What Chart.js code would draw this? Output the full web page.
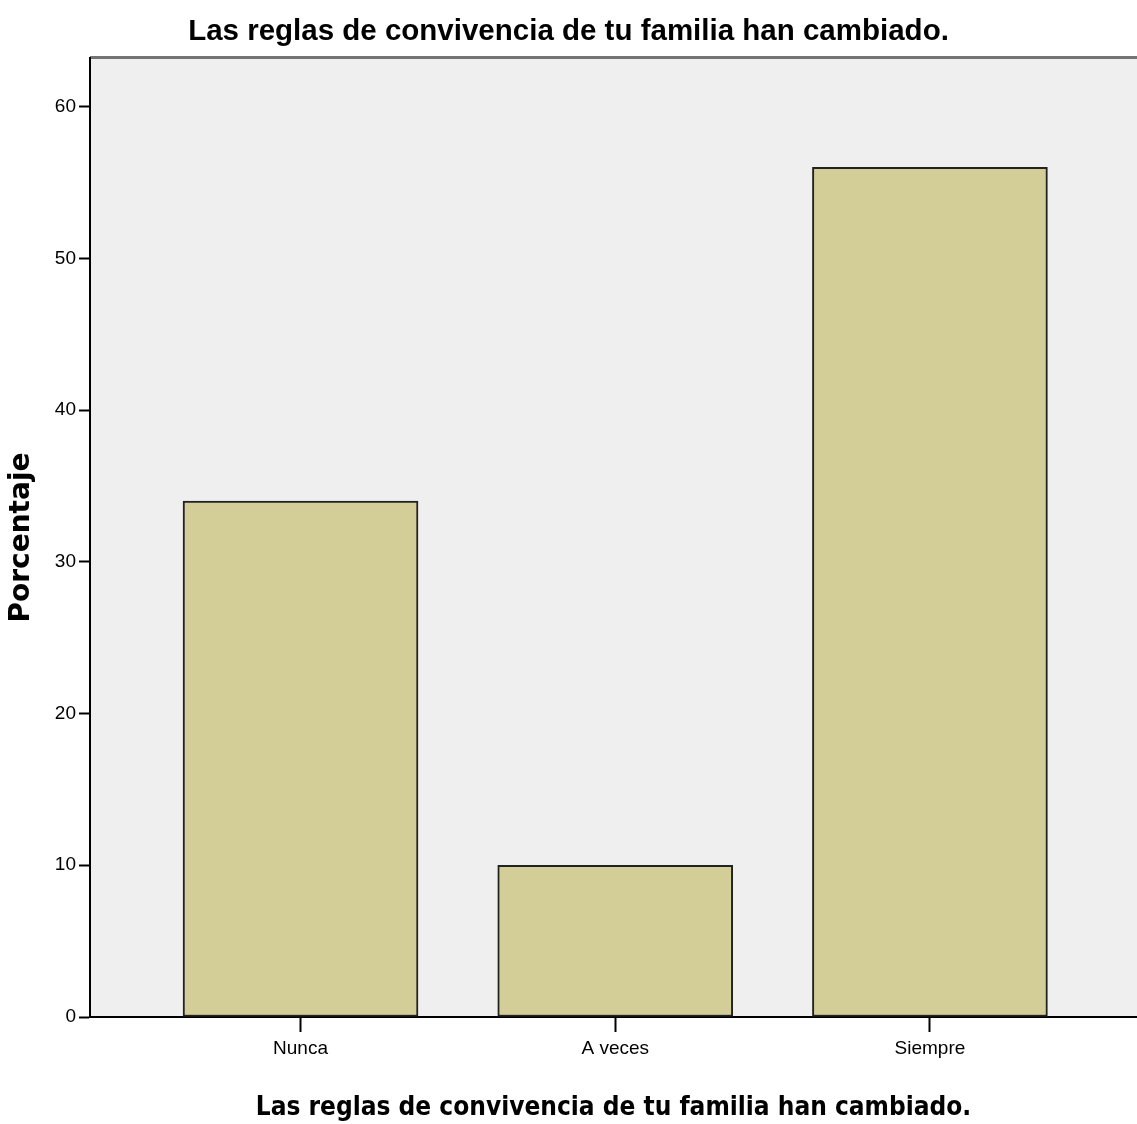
<!DOCTYPE html>
<html><head><meta charset="utf-8">
<script src="https://cdn.jsdelivr.net/npm/chart.js@4/dist/chart.umd.min.js"></script>
<style>html,body{margin:0;padding:0;background:#fff;}#wrap{width:1137px;height:1124px;}</style>
</head><body><div id="wrap"><canvas id="c" width="1137" height="1124"></canvas></div>
<script>
const chartTitle = "Las reglas de convivencia de tu familia han cambiado.";
const xAxisTitle = "Las reglas de convivencia de tu familia han cambiado.";
const yAxisTitle = "Porcentaje";
const categories = ["Nunca", "A veces", "Siempre"];
const percentages = [34, 10, 56];
const yTicks = [0, 10, 20, 30, 40, 50, 60];

const plotBg = {
  id: 'plotBg',
  beforeDraw(chart) {
    const {ctx, chartArea: a} = chart;
    ctx.save();
    ctx.fillStyle = '#efefef';
    ctx.fillRect(a.left, a.top, a.right - a.left, a.bottom - a.top);
    ctx.strokeStyle = '#747474';
    ctx.lineWidth = 3;
    ctx.beginPath();
    ctx.moveTo(a.left, a.top - 0.5);
    ctx.lineTo(a.right, a.top - 0.5);
    ctx.stroke();
    ctx.restore();
  }
};

new Chart(document.getElementById('c'), {
  type: 'bar',
  data: {
    datasets: [{
      data: categories.map((c, i) => ({x: i, y: percentages[i]})),
      backgroundColor: '#d3ce98',
      borderColor: '#222222',
      borderWidth: 2,
      borderSkipped: false,
      barThickness: 235
    }]
  },
  options: {
    responsive: false,
    animation: false,
    layout: {padding: 0},
    plugins: {
      legend: {display: false},
      tooltip: {enabled: false},
      title: {
        display: true,
        text: chartTitle,
        color: '#000',
        font: {family: 'Liberation Sans', size: 29.5, weight: 'bold', lineHeight: 1.2},
        padding: {top: 14, bottom: 8.6}
      }
    },
    scales: {
      x: {
        type: 'linear',
        offset: false,
        min: -0.669,
        max: 2.658,
        afterBuildTicks: s => { s.ticks = categories.map((c, i) => ({value: i})); },
        afterFit: s => { s.height = 107; },
        ticks: {
          callback: v => categories[v],
          color: '#000',
          font: {family: 'Liberation Sans', size: 19},
          padding: 5,
          maxRotation: 0,
          autoSkip: false
        },
        grid: {offset: false, drawOnChartArea: false, drawTicks: true, tickLength: 15, tickColor: '#000', tickWidth: 2},
        border: {display: true, color: '#000', width: 2},
        title: {
          display: true,
          text: xAxisTitle,
          color: '#000',
          font: {family: 'DejaVu Sans Condensed', size: 26, weight: 'bold', lineHeight: 1.2},
          padding: 0
        }
      },
      y: {
        min: 0,
        max: 63.2,
        afterBuildTicks: s => { s.ticks = yTicks.map(v => ({value: v})); },
        afterFit: s => { s.width = 90; },
        ticks: {
          color: '#000',
          font: {family: 'Liberation Sans', size: 19},
          padding: 3
        },
        grid: {drawOnChartArea: false, drawTicks: true, tickLength: 11, tickColor: '#000', tickWidth: 2},
        border: {display: true, color: '#000', width: 2},
        title: {
          display: true,
          text: yAxisTitle,
          color: '#000',
          font: {family: 'DejaVu Sans', size: 28, weight: 'bold', lineHeight: 1.2},
          padding: {top: 5, bottom: 0}
        }
      }
    }
  },
  plugins: [plotBg]
});
</script>
</body></html>
